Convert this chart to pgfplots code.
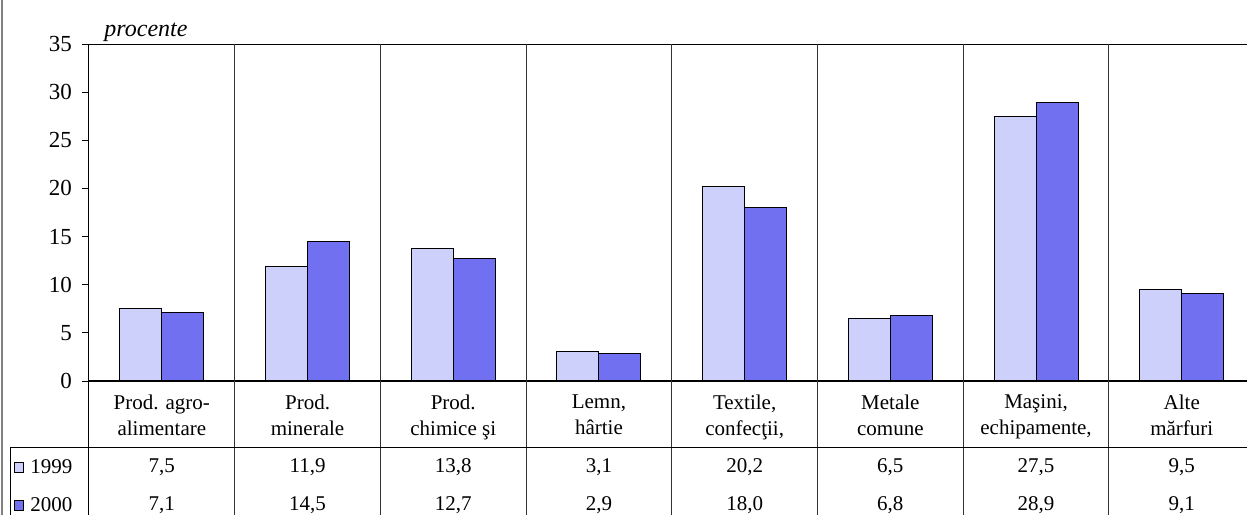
\documentclass[border=0pt]{standalone}
\usepackage{pgfplots}
\pgfplotsset{compat=1.18}
\usepackage{pgfplotstable}
\usepackage{fontspec}
\setmainfont{Liberation Serif}
\newcommand{\fs}{\fontsize{10.5}{13}\selectfont}
\newcommand{\ft}{\fontsize{11.5}{13}\selectfont}
\definecolor{cA}{RGB}{205,208,250}
\definecolor{cB}{RGB}{112,112,240}

\pgfplotstableread{
x a b
0 7.5 7.1
1 11.9 14.5
2 13.8 12.7
3 3.1 2.9
4 20.2 18.0
5 6.5 6.8
6 27.5 28.9
7 9.5 9.1
}\data

\begin{document}
\begin{tikzpicture}
\path[use as bounding box] (0,0) rectangle (623.5pt,-257.5pt);
\begin{axis}[
  at={(44.5pt,-190.5pt)}, anchor=south west,
  scale only axis, width=579pt, height=168.5pt,
  xmin=-0.5, xmax=7.448, ymin=0, ymax=35,
  clip=false,
  axis line style={draw=none},
  xtick={0,...,7},
  xticklabels={{Prod. agro-\\alimentare},{Prod.\\minerale},{Prod.\\chimice şi},{Lemn,\\hârtie},{Textile,\\confecţii,},{Metale\\comune},{Maşini,\\echipamente,},{Alte\\mărfuri}},
  xticklabel style={align=center, font=\fs},
  xtick style={draw=none},
  ytick={0,5,...,35},
  yticklabel style={font=\ft, xshift=-1.5pt},
  ytick style={black, line width=0.5pt},
  tick align=outside, major tick length=3.5pt,
  /pgf/number format/assume math mode=true,
]
\addplot[ybar, bar width=21pt, bar shift=-10.5pt, fill=cA, draw=black, line width=0.5pt] table[x=x,y=a]{\data};
\addplot[ybar, bar width=21pt, bar shift=10.5pt, fill=cB, draw=black, line width=0.5pt] table[x=x,y=b]{\data};

\addplot[draw=none, mark=none, point meta=explicit,
  nodes near coords={\pgfmathprintnumber[fixed,fixed zerofill,precision=1,use comma]{\pgfplotspointmeta}},
  nodes near coords style={anchor=center,font=\fs}] table[x=x, y expr=-8.93, meta=a]{\data};
\addplot[draw=none, mark=none, point meta=explicit,
  nodes near coords={\pgfmathprintnumber[fixed,fixed zerofill,precision=1,use comma]{\pgfplotspointmeta}},
  nodes near coords style={anchor=center,font=\fs}] table[x=x, y expr=-12.88, meta=b]{\data};

\draw[black, line width=0.5pt] (axis cs:-0.5,-13.92) -- (axis cs:-0.5,35) -- (axis cs:7.448,35);
\draw[black, line width=1pt] (axis cs:-0.5,0) -- (axis cs:7.448,0);
\draw[black!80, line width=0.5pt] (axis cs:0.5,35) -- (axis cs:0.5,-13.92);
\draw[black!80, line width=0.5pt] (axis cs:1.5,35) -- (axis cs:1.5,-13.92);
\draw[black!80, line width=0.5pt] (axis cs:2.5,35) -- (axis cs:2.5,-13.92);
\draw[black!80, line width=0.5pt] (axis cs:3.5,35) -- (axis cs:3.5,-13.92);
\draw[black!80, line width=0.5pt] (axis cs:4.5,35) -- (axis cs:4.5,-13.92);
\draw[black!80, line width=0.5pt] (axis cs:5.5,35) -- (axis cs:5.5,-13.92);
\draw[black!80, line width=0.5pt] (axis cs:6.5,35) -- (axis cs:6.5,-13.92);
\draw[black, line width=0.5pt] (axis cs:-1.042,-13.92) -- (axis cs:-1.042,-6.854) -- (axis cs:7.448,-6.854);
\end{axis}
\begin{scope}[x=0.5pt,y=-0.5pt]
\draw[gray, line width=1pt] (2,0) -- (2,515);
\node[anchor=west, inner sep=0, font=\fontsize{12}{14}\selectfont\itshape] at (104,32) {procente};
\draw[black, line width=0.3pt, fill=cA] (14,462) rectangle (23,472);
\node[anchor=west, inner sep=0, font=\fs] at (30,467) {1999};
\draw[black, line width=0.3pt, fill=cB] (14,500) rectangle (23,510);
\node[anchor=west, inner sep=0, font=\fs] at (30,505) {2000};
\end{scope}
\end{tikzpicture}
\end{document}
